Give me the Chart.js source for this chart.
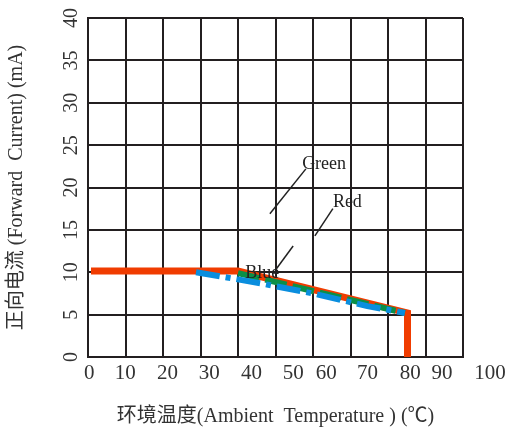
<!DOCTYPE html>
<html>
<head>
<meta charset="utf-8">
<script src="https://cdn.jsdelivr.net/npm/chart.js@4/dist/chart.umd.min.js"></script>
<style>
  body { margin: 0; background: #fff; }
  #wrap { width: 509px; height: 427px; }
</style>
</head>
<body>
<div id="wrap"><canvas id="deratingChart" width="509" height="427"></canvas></div>
<script>
// x values are in grid units (10 equal columns), y in mA
var redX = [0.8, 40, 85.2, 85.2];
var redY = [10.15, 10.15, 5.2, 0];
var greenX = [40, 84.5];
var greenY = [9.9, 5.2];
var blueX = [28.8, 46, 60.5, 74.5, 84.5];
var blueY = [10.0, 8.7, 7.45, 6.0, 5.2];

// leader lines from the curve names
var greenLeadX = [58.1, 48.5];
var greenLeadY = [22.2, 16.9];
var redLeadX = [65.3, 60.5];
var redLeadY = [17.5, 14.3];
var blueLeadX = [54.7, 49.9];
var blueLeadY = [13.1, 10.2];

var curveNames = ['Green', 'Red', 'Blue'];
var curveNameX = [57.1, 65.3, 41.9];
var curveNameY = [22.8, 18.2, 9.9];

// tick labels of the temperature axis, printed off the grid in the original
var xTickLabels = ['0', '10', '20', '30', '40', '50', '60', '70', '80', '90', '100'];
var xTickAt = [0.3, 9.9, 21.2, 32.3, 43.6, 54.7, 63.5, 74.5, 85.9, 94.4, 107.2];

var serif = "'Liberation Serif', 'Noto Sans CJK SC', serif";
var inkColor = '#333';
var gridColor = '#231f20';

function pts(xs, ys) {
    return xs.map(function (x, i) { return {x: x, y: ys[i]}; });
}

function leader(xs, ys) {
    return {
        data: pts(xs, ys),
        borderColor: '#222',
        borderWidth: 1.5,
        pointRadius: 0,
        order: 0
    };
}

var curveNamesPlugin = {
    id: 'curveNames',
    afterDatasetsDraw: function (chart) {
        var ctx = chart.ctx;
        var xs = chart.scales.x;
        var ys = chart.scales.y;
        ctx.save();
        ctx.font = '18px ' + serif;
        ctx.fillStyle = '#222';
        ctx.textAlign = 'left';
        ctx.textBaseline = 'middle';
        for (var i = 0; i < curveNames.length; i++) {
            ctx.fillText(curveNames[i], xs.getPixelForValue(curveNameX[i]), ys.getPixelForValue(curveNameY[i]));
        }
        ctx.restore();
    }
};

var ctx = document.getElementById('deratingChart').getContext('2d');
var myChart = new Chart(ctx, {
    type: 'line',
    data: {
        datasets: [
            {
                data: pts(redX, redY),
                borderColor: '#f03c00',
                borderWidth: 7,
                borderJoinStyle: 'miter',
                pointRadius: 0,
                order: 3
            },
            {
                data: pts(greenX, greenY),
                borderColor: '#0a8f48',
                borderWidth: 6,
                borderDash: [22, 6],
                pointRadius: 0,
                order: 2
            },
            {
                data: pts(blueX, blueY),
                borderColor: '#0a8ede',
                borderWidth: 6,
                borderDash: [24, 6, 5, 6],
                pointRadius: 0,
                order: 1
            },
            leader(greenLeadX, greenLeadY),
            leader(redLeadX, redLeadY),
            leader(blueLeadX, blueLeadY)
        ]
    },
    options: {
        responsive: false,
        animation: false,
        layout: { padding: { left: 0, right: 46, top: 16, bottom: 0 } },
        plugins: {
            legend: { display: false },
            tooltip: { enabled: false }
        },
        scales: {
            x: {
                type: 'linear',
                position: 'bottom',
                min: 0,
                max: 100,
                ticks: { stepSize: 10, display: false },
                grid: { color: gridColor, lineWidth: 2, drawTicks: false },
                border: { color: gridColor, width: 2 },
                afterFit: function (scale) { scale.height = 0; }
            },
            xLabels: {
                type: 'linear',
                position: 'bottom',
                min: 0,
                max: 100,
                grid: { display: false, drawTicks: false },
                border: { display: false },
                afterBuildTicks: function (scale) {
                    scale.ticks = xTickAt.map(function (v) { return {value: v}; });
                },
                ticks: {
                    autoSkip: false,
                    maxRotation: 0,
                    padding: 4,
                    color: inkColor,
                    font: { family: serif, size: 21 },
                    callback: function (value, index) { return xTickLabels[index]; }
                },
                title: {
                    display: true,
                    text: '环境温度(Ambient  Temperature ) (℃)',
                    color: inkColor,
                    font: { family: serif, size: 20, lineHeight: 1 },
                    padding: { top: 0, bottom: 0 }
                },
                afterFit: function (scale) { scale.height = 70; }
            },
            y: {
                min: 0,
                max: 40,
                ticks: {
                    stepSize: 5,
                    minRotation: 90,
                    maxRotation: 90,
                    crossAlign: 'center',
                    padding: 6,
                    color: inkColor,
                    font: { family: serif, size: 20 }
                },
                grid: { color: gridColor, lineWidth: 2, drawTicks: false },
                border: { color: gridColor, width: 2 },
                title: {
                    display: true,
                    text: '正向电流 (Forward  Current) (mA)',
                    color: inkColor,
                    font: { family: serif, size: 20 },
                    padding: { top: 5, bottom: 0 }
                },
                afterFit: function (scale) { scale.width = 88; }
            }
        }
    },
    plugins: [curveNamesPlugin]
});
</script>
</body>
</html>
